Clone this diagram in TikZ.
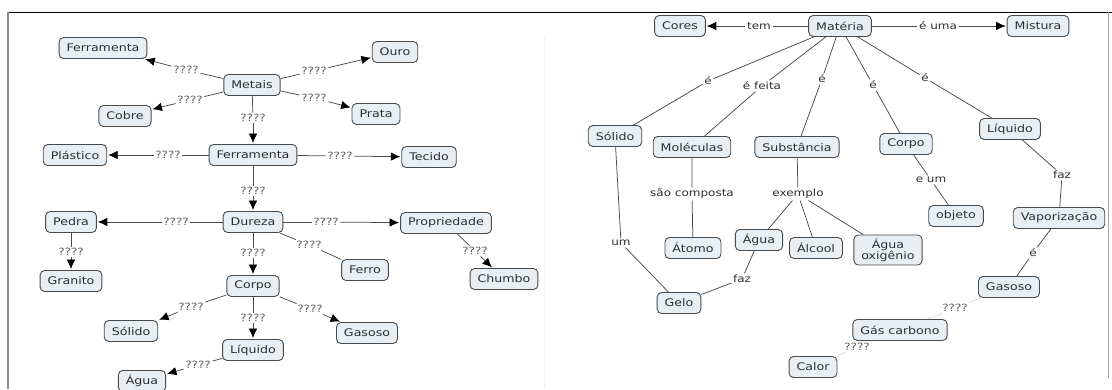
\documentclass[tikz,border=0pt]{standalone}
\usepackage{fontspec}
\setmainfont{DejaVu Sans}[FakeStretch=1.2]
\usepackage{xcolor}
\usepackage{tikz}
\usetikzlibrary{arrows.meta}
\definecolor{caixa}{HTML}{E8EFF4}
\definecolor{borda}{HTML}{4A4A4A}
\definecolor{texto}{HTML}{2E2E2E}

\begin{document}
\begin{tikzpicture}[x=1pt, y=-1pt, >={Latex[length=9.5pt,width=8.5pt,color=black]},
    conceito/.style={draw=borda, fill=caixa, rounded corners=4.5pt, line width=0.9pt,
        font=\fontsize{10.5}{11.5}\selectfont, text=texto, inner xsep=7.5pt,
        minimum height=21pt, align=center},
    ligacao/.style={font=\fontsize{10}{11}\selectfont, text=texto, inner sep=1.5pt},
    duvida/.style={ligacao, text=gray!75!black},
    linha/.style={draw=borda, line width=0.75pt}]
    \useasboundingbox (0,0) rectangle (1112,389);

    % Moldura
    \draw[line width=1pt] (8,12) -- (1112,12);
    \draw[gray!90, line width=1.6pt] (8,12) -- (8,389);
    \draw[gray!70, line width=1pt] (1108,12) -- (1108,378);
    \draw[gray!12] (544,38) -- (544,389);

    % Mapa Metais
    \foreach \nome/\x/\y/\txt in {ferrA/103/48/Ferramenta, metais/252/85/Metais,
        ouro/395/52/Ouro, cobre/125/116/Cobre, prata/376/114/Prata,
        plastico/75/155/Plástico, ferrB/253/155/Ferramenta, tecido/429/157/Tecido,
        pedra/71/222/Pedra, dureza/253/222/Dureza, propr/446/223/Propriedade,
        granito/71/281/Granito, ferro/365/270/Ferro, chumbo/504/279/Chumbo,
        corpoA/253/286/Corpo, solidoA/131/331/Sólido, gasosoA/367/333/Gasoso,
        liquidoA/253/350/Líquido, aguaA/142/381/Água} {
        \node[conceito] (\nome) at (\x,\y) {\txt};
    }

    % Ligacoes ????
    \foreach \a/\b/\x/\y [count=\i] in {metais/ferrA/186/70, metais/cobre/190/100,
        metais/ouro/314/71, metais/prata/314/98, metais/ferrB/253/118,
        ferrB/plastico/168/155, ferrB/tecido/340/156, ferrB/dureza/253/191,
        dureza/pedra/176/222, dureza/propr/326/222, pedra/granito/71/252,
        dureza/corpoA/253/253, propr/chumbo/475/251, corpoA/solidoA/191/307,
        corpoA/liquidoA/253/318, corpoA/gasosoA/310/309, liquidoA/aguaA/198/365} {
        \node[duvida] (q\i) at (\x,\y) {????};
        \draw[linha] (\a) -- (q\i);
        \draw[linha, ->, shorten >=1pt] (q\i) -- (\b);
    }
    \node[duvida] (qferro) at (309,245) {????};
    \draw[linha] (dureza) -- (qferro) -- (ferro);

    % Mapa Materia
    \foreach \nome/\x/\y/\txt in {cores/680/26/Cores, materia/840/26/Matéria,
        mistura/1038/26/Mistura, solidoB/615/136/Sólido, molec/692/147/Moléculas,
        subst/797/147/Substância, corpoB/906/144/Corpo, liquidoB/1010/129/Líquido,
        atomo/693/248/Átomo, aguaB/759/240/Água, alcool/816/248/Álcool,
        objeto/956/216/objeto, vapor/1059/218/Vaporização, gelo/679/303/Gelo,
        gasosoB/1009/287/Gasoso, gascarb/900/330/Gás carbono, calor/813/367/Calor} {
        \node[conceito] (\nome) at (\x,\y) {\txt};
    }
    \node[conceito] (aguaox) at (888,250) {Água\\oxigênio};

    \node[ligacao] (tem) at (759,26) {tem};
    \draw[linha] (materia) -- (tem);
    \draw[linha, ->, shorten >=1pt] (tem) -- (cores);
    \node[ligacao] (euma) at (938,26) {é uma};
    \draw[linha] (materia) -- (euma);
    \draw[linha, ->, shorten >=1pt] (euma) -- (mistura);

    \foreach \a/\b/\x/\y/\txt [count=\i] in {materia/solidoB/708/81/é,
        materia/molec/762/86/é feita, materia/subst/822/79/é,
        materia/corpoB/873/85/é, materia/liquidoB/925/78/é,
        solidoB/gelo/621/243/um, molec/atomo/692/194/são composta,
        corpoB/objeto/931/180/e um, liquidoB/vapor/1062/175/faz,
        aguaB/gelo/742/279/faz, vapor/gasosoB/1033/253/é} {
        \node[ligacao] (r\i) at (\x,\y) {\txt};
        \draw[linha] (\a) -- (r\i) -- (\b);
    }

    % exemplo
    \node[ligacao] (exemplo) at (798,194) {exemplo};
    \draw[linha] (subst) -- (exemplo);
    \foreach \b in {aguaB, alcool, aguaox}
        \draw[linha] (exemplo) -- (\b);

    % Gasoso / Gas carbono / Calor
    \node[duvida] (qgas) at (955,308) {????};
    \node[duvida] (qcalor) at (857,347) {????};
    \draw[linha, draw=gray!30] (gasosoB) -- (qgas) -- (gascarb);
    \draw[linha, draw=gray!30] (gascarb) -- (qcalor) -- (calor);
\end{tikzpicture}
\end{document}
